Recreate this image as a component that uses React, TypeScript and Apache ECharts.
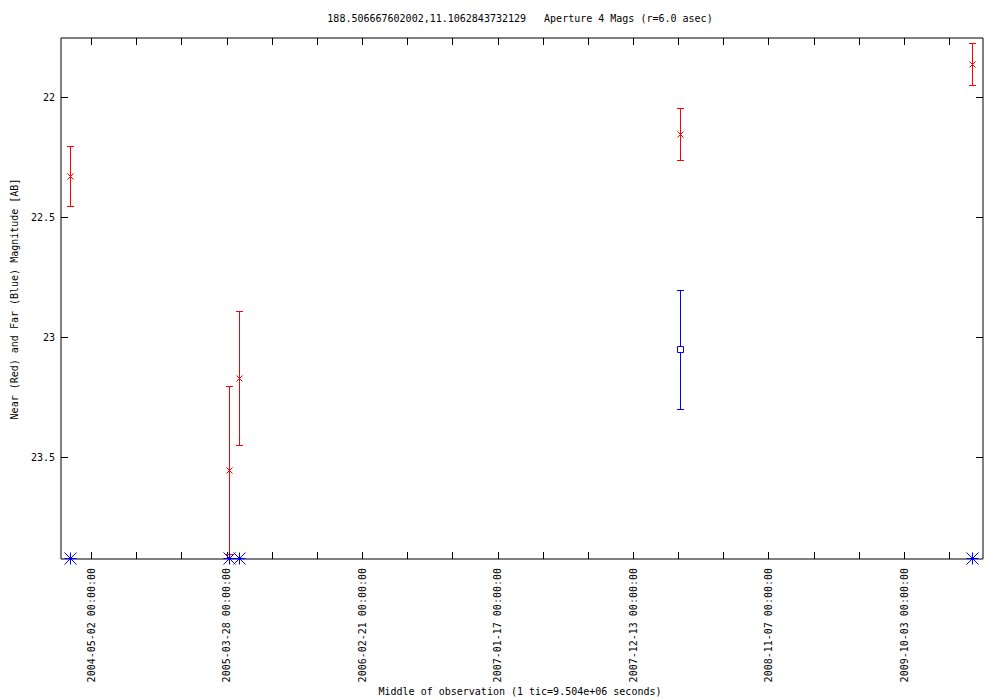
import React, { useEffect, useRef } from "react";
import * as echarts from "echarts";

const DAY = 86400000;
const ORIGIN = "2004-05-02";
const X_MIN_DATE = "2004-02-18";
const X_MAX_DATE = "2010-04-13";
const TICK_STEP_DAYS = 110;

const xLabelDates = ["2004-05-02", "2005-03-28", "2006-02-21", "2007-01-17", "2007-12-13", "2008-11-07", "2009-10-03"];
const yTicks = [22, 22.5, 23, 23.5];
const Y_MIN = 21.754;
const Y_MAX = 23.925;

// Near (red) detections
const nearDates = ["2004-03-11", "2005-04-03", "2005-04-27", "2008-04-05", "2010-03-17"];
const nearMag = [22.329, 23.554, 23.171, 22.154, 21.863];
const nearErr = [0.127, 0.35, 0.28, 0.11, 0.087];

// Far (blue) detections
const farDates = ["2008-04-05"];
const farMag = [23.05];
const farErr = [0.248];

// Far (blue) non-detections, drawn on the bottom edge
const farLimitDates = ["2004-03-11", "2005-04-03", "2005-04-27", "2010-03-17"];

const TITLE = "188.506667602002,11.1062843732129   Aperture 4 Mags (r=6.0 asec)";
const X_NAME = "Middle of observation (1 tic=9.504e+06 seconds)";
const Y_NAME = "Near (Red) and Far (Blue) Magnitude [AB]";

const FONT = "DejaVu Sans Mono";

const ms = (d: string) => Date.parse(d + "T00:00:00Z");

export default function App() {
  const ref = useRef<HTMLDivElement>(null);
  useEffect(() => {
    document.body.style.margin = "0";
    const chart = echarts.init(ref.current!, null, { renderer: "svg" });
    const origin = ms(ORIGIN);
    const xMin = ms(X_MIN_DATE);
    const xMax = ms(X_MAX_DATE);
    const minorTicks: number[] = [];
    for (let k = 0; origin + k * TICK_STEP_DAYS * DAY <= xMax; k++) minorTicks.push(origin + k * TICK_STEP_DAYS * DAY);
    const labelTicks = xLabelDates.map(ms);
    const fmt = (v: number) => new Date(v).toISOString().slice(0, 10) + " 00:00:00";
    const px = (v: number) => Math.round(v) + 0.5;

    const errRender = (color: string, marker: "x" | "square") => (params: any, api: any) => {
      const x = api.value(0), y = api.value(1), e = api.value(2);
      const c = api.coord([x, y]);
      const t = api.coord([x, y - e]);
      const b = api.coord([x, y + e]);
      const cx = px(c[0]);
      const cy = px(c[1]);
      const ty = px(t[1]);
      const by = px(b[1]);
      const style = { stroke: color, lineWidth: 1, fill: "none" };
      const children: any[] = [
        { type: "line", shape: { x1: cx, y1: ty, x2: cx, y2: by }, style },
        { type: "line", shape: { x1: cx - 3.5, y1: ty, x2: cx + 3.5, y2: ty }, style },
        { type: "line", shape: { x1: cx - 3.5, y1: by, x2: cx + 3.5, y2: by }, style },
      ];
      if (marker === "x") {
        children.push({ type: "line", shape: { x1: cx - 3, y1: cy - 3, x2: cx + 3, y2: cy + 3 }, style });
        children.push({ type: "line", shape: { x1: cx - 3, y1: cy + 3, x2: cx + 3, y2: cy - 3 }, style });
      } else {
        children.push({ type: "rect", shape: { x: cx - 3, y: cy - 3, width: 6, height: 6 }, style: { stroke: color, lineWidth: 1, fill: "#fff" } });
      }
      return { type: "group", children };
    };

    const starRender = (params: any, api: any) => {
      const c = api.coord([api.value(0), api.value(1)]);
      const cx = px(c[0]);
      const cy = px(c[1]) - 1;
      const r = 6;
      const style = { stroke: "#0000ff", lineWidth: 1 };
      return {
        type: "group",
        children: [
          { type: "line", shape: { x1: cx, y1: cy - r, x2: cx, y2: cy + r }, style },
          { type: "line", shape: { x1: cx - r, y1: cy, x2: cx + r, y2: cy }, style },
          { type: "line", shape: { x1: cx - r, y1: cy - r, x2: cx + r, y2: cy + r }, style },
          { type: "line", shape: { x1: cx - r, y1: cy + r, x2: cx + r, y2: cy - r }, style },
        ],
      };
    };

    const axisText = { color: "#000", fontFamily: FONT, fontSize: 10 };

    chart.setOption({
      animation: false,
      backgroundColor: "#fff",
      grid: { left: 61, right: 17, top: 38, bottom: 141, show: true, borderColor: "#000", borderWidth: 1, backgroundColor: "transparent" },
      xAxis: [
        {
          type: "value",
          position: "bottom",
          min: xMin,
          max: xMax,
          splitLine: { show: false },
          axisLine: { show: false },
          axisTick: { show: true, inside: true, length: 7, lineStyle: { color: "#000" }, customValues: minorTicks },
          axisLabel: { ...axisText, rotate: 90, margin: 9, customValues: labelTicks, formatter: fmt },
        },
        {
          type: "value",
          position: "top",
          min: xMin,
          max: xMax,
          splitLine: { show: false },
          axisLine: { show: false },
          axisTick: { show: true, inside: true, length: 7, lineStyle: { color: "#000" }, customValues: minorTicks },
          axisLabel: { show: false, customValues: labelTicks },
        },
      ],
      yAxis: [
        {
          type: "value",
          position: "left",
          inverse: true,
          min: Y_MIN,
          max: Y_MAX,
          splitLine: { show: false },
          axisLine: { show: false },
          axisTick: { show: true, inside: true, length: 7, lineStyle: { color: "#000" }, customValues: yTicks },
          axisLabel: { ...axisText, margin: 6, customValues: yTicks, formatter: (v: number) => String(v) },
        },
        {
          type: "value",
          position: "right",
          inverse: true,
          min: Y_MIN,
          max: Y_MAX,
          splitLine: { show: false },
          axisLine: { show: false },
          axisTick: { show: true, inside: true, length: 7, lineStyle: { color: "#000" }, customValues: yTicks },
          axisLabel: { show: false, customValues: yTicks },
        },
      ],
      graphic: [
        { type: "text", x: 520, y: 18, style: { text: TITLE, fill: "#000", font: `10px ${FONT}`, align: "center", verticalAlign: "middle" } },
        { type: "text", x: 520, y: 691, style: { text: X_NAME, fill: "#000", font: `10px ${FONT}`, align: "center", verticalAlign: "middle" } },
        { type: "text", x: 14, y: 299, rotation: Math.PI / 2, style: { text: Y_NAME, fill: "#000", font: `10px ${FONT}`, align: "center", verticalAlign: "middle" } },
      ],
      series: [
        {
          type: "custom",
          name: "Near",
          xAxisIndex: 0,
          yAxisIndex: 0,
          clip: false,
          renderItem: errRender("#ff0000", "x"),
          data: nearDates.map((d, i) => [ms(d), nearMag[i], nearErr[i]]),
          z: 3,
        },
        {
          type: "custom",
          name: "Far",
          xAxisIndex: 0,
          yAxisIndex: 0,
          clip: false,
          renderItem: errRender("#0000ff", "square"),
          data: farDates.map((d, i) => [ms(d), farMag[i], farErr[i]]),
          z: 3,
        },
        {
          type: "custom",
          name: "Far limits",
          xAxisIndex: 0,
          yAxisIndex: 0,
          clip: false,
          renderItem: starRender,
          data: farLimitDates.map((d) => [ms(d), Y_MAX]),
          z: 4,
        },
      ],
    });
    return () => chart.dispose();
  }, []);
  return <div ref={ref} style={{ width: 1000, height: 700 }} />;
}
